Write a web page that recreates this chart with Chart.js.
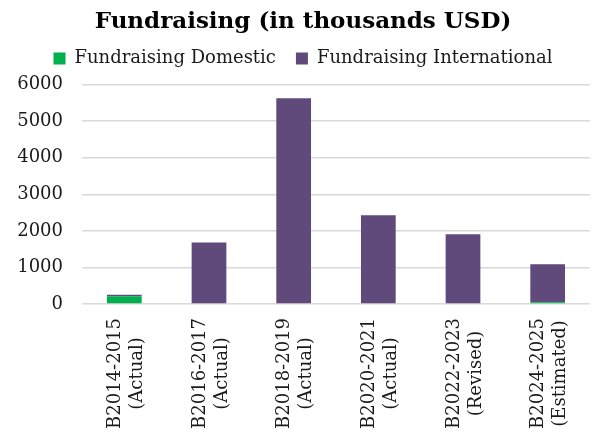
<!DOCTYPE html>
<html>
<head>
<meta charset="utf-8">
<script src="https://cdn.jsdelivr.net/npm/chart.js@4"></script>
<style>
  html, body { margin: 0; padding: 0; background: #fff; }
  #wrap { width: 592px; height: 434px; }
</style>
</head>
<body>
<div id="wrap"><canvas id="chart" width="592" height="434"></canvas></div>
<script>
// Budget periods shown along the x axis (two lines each)
const categories = [
  ['B2014-2015', '(Actual)'],
  ['B2016-2017', '(Actual)'],
  ['B2018-2019', '(Actual)'],
  ['B2020-2021', '(Actual)'],
  ['B2022-2023', '(Revised)'],
  ['B2024-2025', '(Estimated)']
];
// Amounts in thousands USD
const domestic = [215, 0, 0, 0, 0, 45];
const international = [35, 1680, 5630, 2430, 1910, 1040];
const yTicks = [0, 1000, 2000, 3000, 4000, 5000, 6000];

const FONT = 'DejaVu Serif';
const TEXT = '#1a1a1a';

// Draws the two-line category labels rotated 90°, lines centred on each other
const verticalLabels = {
  id: 'verticalLabels',
  afterDraw(chart) {
    const xs = chart.scales.x;
    const ctx = chart.ctx;
    const size = 18, lineH = 22, pad = 14;
    ctx.save();
    ctx.font = size + 'px "' + FONT + '"';
    ctx.fillStyle = TEXT;
    ctx.textAlign = 'center';
    ctx.textBaseline = 'middle';
    categories.forEach((lines, i) => {
      const longest = Math.max(...lines.map(l => ctx.measureText(l).width));
      const cx = xs.getPixelForValue(i) + 2;
      const cy = xs.top + pad + longest / 2;
      ctx.save();
      ctx.translate(cx, cy);
      ctx.rotate(-Math.PI / 2);
      lines.forEach((l, j) => {
        ctx.fillText(l, 0, (j - (lines.length - 1) / 2) * lineH);
      });
      ctx.restore();
    });
    ctx.restore();
  }
};

// A little extra room under the legend row
const legendGap = {
  id: 'legendGap',
  beforeInit(chart) {
    const lg = chart.legend;
    if (!lg) return;
    const fit = lg.fit;
    lg.fit = function () {
      fit.call(this);
      this.height += 7;
    };
  }
};

new Chart(document.getElementById('chart'), {
  type: 'bar',
  data: {
    labels: categories.map(c => c.join(' ')),
    datasets: [
      { label: 'Fundraising Domestic', data: domestic, backgroundColor: '#00b050' },
      { label: 'Fundraising International', data: international, backgroundColor: '#604a7b' }
    ]
  },
  options: {
    responsive: false,
    animation: false,
    layout: { padding: { left: 16, right: 2, top: 6, bottom: 0 } },
    datasets: { bar: { categoryPercentage: 1, barPercentage: 0.41 } },
    plugins: {
      title: {
        display: true,
        text: 'Fundraising (in thousands USD)',
        color: '#000',
        font: { family: FONT, size: 23, weight: 'bold' },
        padding: { top: 2, bottom: -6 }
      },
      legend: {
        labels: {
          color: TEXT,
          font: { family: FONT, size: 18 },
          boxWidth: 12,
          boxHeight: 12,
          padding: 20
        }
      },
      tooltip: { enabled: false }
    },
    scales: {
      x: {
        stacked: true,
        grid: { display: false },
        border: { display: false },
        ticks: { display: false },
        afterFit(scale) { scale.height = 130; }
      },
      y: {
        stacked: true,
        min: 0,
        max: 6000,
        afterBuildTicks(scale) { scale.ticks = yTicks.map(v => ({ value: v })); },
        afterFit(scale) { scale.width = 66; },
        grid: { color: '#d9d9d9', lineWidth: 1.5, drawTicks: false },
        border: { display: false },
        ticks: {
          color: TEXT,
          font: { family: FONT, size: 18 },
          padding: 19,
          callback: v => String(v)
        }
      }
    }
  },
  plugins: [verticalLabels, legendGap]
});
</script>
</body>
</html>
